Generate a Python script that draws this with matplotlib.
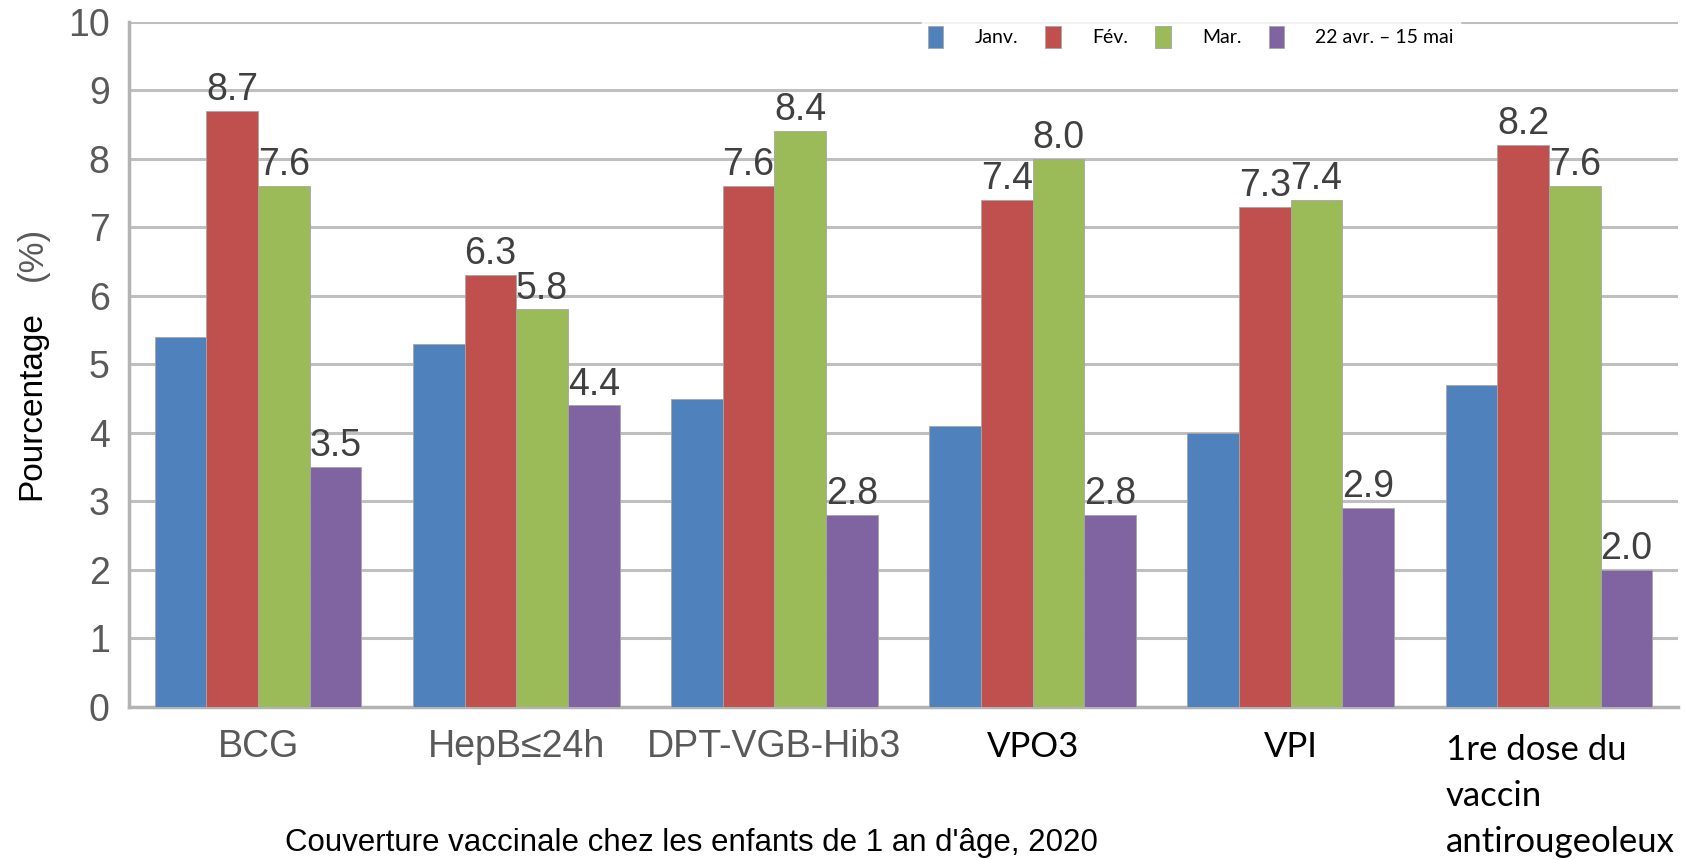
import matplotlib.pyplot as plt
import numpy as np

# Données
vaccins = ['BCG', 'HepB≤24h', 'DPT-VGB-Hib3', 'VPO3', 'VPI',
           '1re dose du\nvaccin\nantirougeoleux']
periodes = ['Janv.', 'Fév.', 'Mar.', '22 avr. – 15 mai']

janv = [5.4, 5.3, 4.5, 4.1, 4.0, 4.7]
fev = [8.7, 6.3, 7.6, 7.4, 7.3, 8.2]
mars = [7.6, 5.8, 8.4, 8.0, 7.4, 7.6]
avr_mai = [3.5, 4.4, 2.8, 2.8, 2.9, 2.0]

yticks = [0, 1, 2, 3, 4, 5, 6, 7, 8, 9, 10]

series = [janv, fev, mars, avr_mai]
colors = ['#4F81BD', '#C0504D', '#9BBB59', '#8064A2']
show_labels = [False, True, True, True]

W, H = 1685, 860
fig = plt.figure(figsize=(W / 100, H / 100), dpi=100)
ax = fig.add_axes([129 / W, 1 - 707 / H, (1678 - 129) / W, (707 - 21.5) / H])

arial = 'Liberation Sans'
calibri = 'Lato'

x = np.arange(len(vaccins))
width = 0.2
for i, vals in enumerate(series):
    bars = ax.bar(x + (i - 1.5) * width, vals, width=width, color=colors[i],
                  edgecolor='#A6A6A6', linewidth=0.6, label=periodes[i], zorder=3)
    if show_labels[i]:
        for b, v in zip(bars, vals):
            ax.text(b.get_x() + b.get_width() / 2, v + 0.04, f'{v:.1f}',
                    ha='center', va='bottom', fontsize=27, family=arial,
                    color='#404040', zorder=4)

ax.set_xlim(-0.5, len(vaccins) - 0.5)
ax.set_ylim(0, 10)
ax.set_yticks(yticks)
ax.set_yticklabels([str(t) for t in yticks], fontsize=27, family=arial, color='#595959')
ax.tick_params(axis='y', length=0, pad=14)
ax.tick_params(axis='x', length=0)
ax.set_xticks([])

ax.grid(True, axis='y', color='#BFBFBF', linewidth=2.2, zorder=0)
ax.set_axisbelow(True)
for s in ['top', 'right']:
    ax.spines[s].set_visible(False)
for s in ['left', 'bottom']:
    ax.spines[s].set_color('#B3B3B3')
    ax.spines[s].set_linewidth(2.5)

# Étiquettes des catégories
for k, nom in enumerate(vaccins[:3]):
    ax.text(k, -0.58, nom, ha='center', va='center', fontsize=27, family=arial,
            color='#595959', clip_on=False)
for k in (3, 4):
    ax.text(k, -0.58, vaccins[k], ha='center', va='center', fontsize=25,
            family=calibri, color='black', clip_on=False)
ax.text(4.6, -0.4, vaccins[5], ha='left', va='top', fontsize=25,
        family=calibri, color='black', linespacing=1.53, clip_on=False)

# Titre de l'axe Y
fig.text(32 / W, 1 - 406 / H, 'Pourcentage', rotation=90, ha='center', va='center',
         fontsize=24, family=arial, color='black')
fig.text(32 / W, 1 - 254 / H, '(%)', rotation=90, ha='center', va='center',
         fontsize=25, family=arial, color='#595959')

# Titre en bas
fig.text(691 / W, 1 - 843 / H, "Couverture vaccinale chez les enfants de 1 an d'âge, 2020",
         ha='center', va='center', fontsize=22.5, family=arial, color='black')

leg = ax.legend(loc='center left', bbox_to_anchor=(922 / W, 1 - 37 / H),
                bbox_transform=fig.transFigure, ncol=4, frameon=True,
                prop={'family': calibri, 'size': 14}, handlelength=0.8,
                handleheight=1.4, handletextpad=1.6, columnspacing=1.4,
                borderaxespad=0, borderpad=0.3, fancybox=False)
leg.get_frame().set_facecolor('white')
leg.get_frame().set_edgecolor('white')
leg.set_zorder(5)

plt.savefig('out.png', dpi=100)
